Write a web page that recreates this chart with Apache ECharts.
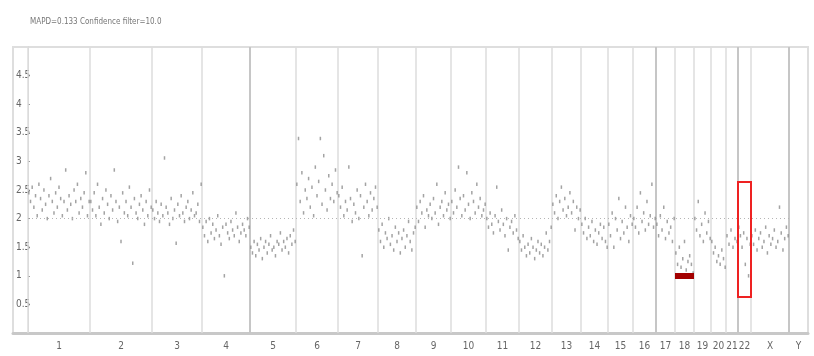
<!DOCTYPE html>
<html>
<head>
<meta charset="utf-8">
<script src="https://cdn.jsdelivr.net/npm/echarts@6/dist/echarts.min.js"></script>
<style>
  html, body { margin: 0; padding: 0; background: #fff; }
  #chart { width: 814px; height: 356px; }
</style>
</head>
<body>
<div id="chart"></div>
<script>
// chromosome names and on-screen widths (genome units)
const chromNames = ["1", "2", "3", "4", "5", "6", "7", "8", "9", "10", "11", "12",
  "13", "14", "15", "16", "17", "18", "19", "20", "21", "22", "X", "Y"];
const chromWidths = [62, 62, 50, 48, 46, 42, 40, 38, 35, 35, 33, 33,
  29, 27, 25, 23, 19, 19, 17, 15, 12, 13, 38, 19];

// copy number values per chromosome
const chr1 = [2.45, 2.3, 2.55, 2.2, 2.4, 2.05, 2.6, 2.35, 2.15, 2.5, 2.25, 2.0, 2.4, 2.7, 2.3, 2.1, 2.45, 2.2, 2.55, 2.35, 2.05, 2.3, 2.85, 2.15, 2.4, 2.25, 2.0, 2.5, 2.3, 2.6, 2.1, 2.35, 2.2, 2.45, 2.8, 2.05, 2.3];
const chr2 = [2.3, 2.15, 2.45, 2.05, 2.6, 2.2, 1.9, 2.35, 2.1, 2.5, 2.25, 2.0, 2.4, 2.15, 2.85, 2.3, 1.95, 2.2, 1.6, 2.45, 2.1, 2.3, 2.05, 2.55, 2.2, 1.22, 2.35, 2.1, 2.0, 2.25, 2.4, 2.15, 1.9, 2.3, 2.05, 2.5, 2.2];
const chr3 = [2.15, 2.0, 2.3, 2.1, 1.95, 2.25, 2.05, 3.06, 2.2, 2.1, 1.9, 2.35, 2.0, 2.15, 1.57, 2.25, 2.05, 2.4, 2.1, 1.95, 2.2, 2.3, 2.0, 2.15, 2.45, 2.05, 2.1, 2.25, 1.95, 2.6];
const chr4 = [1.85, 1.7, 1.95, 1.6, 2.0, 1.75, 1.9, 1.65, 1.8, 2.05, 1.7, 1.55, 1.85, 1.0, 1.9, 1.75, 1.65, 1.95, 1.8, 1.7, 2.1, 1.85, 1.6, 1.75, 1.9, 1.8, 1.7, 2.0, 1.85];
const chr5 = [1.5, 1.4, 1.6, 1.35, 1.55, 1.45, 1.65, 1.3, 1.5, 1.6, 1.4, 1.55, 1.7, 1.45, 1.5, 1.35, 1.6, 1.55, 1.75, 1.45, 1.6, 1.5, 1.65, 1.4, 1.7, 1.55, 1.8, 1.6];
const chr6 = [2.6, 3.4, 2.3, 2.8, 2.1, 2.5, 2.35, 2.7, 2.2, 2.55, 2.05, 2.9, 2.4, 2.65, 3.4, 2.25, 3.1, 2.5, 2.15, 2.75, 2.35, 2.6, 2.3, 2.85, 2.45];
const chr7 = [2.4, 2.2, 2.55, 2.05, 2.3, 2.15, 2.9, 2.35, 1.95, 2.25, 2.1, 2.5, 2.0, 2.4, 1.35, 2.2, 2.6, 2.3, 2.05, 2.45, 2.15, 2.35, 2.55, 2.2];
const chr8 = [1.8, 1.6, 1.9, 1.5, 1.75, 1.65, 2.0, 1.55, 1.7, 1.45, 1.85, 1.6, 1.75, 1.4, 1.65, 1.8, 1.5, 1.7, 1.95, 1.6, 1.45, 1.75, 1.85];
const chr9 = [2.2, 1.95, 2.3, 2.1, 2.4, 1.85, 2.15, 2.05, 2.25, 2.0, 2.35, 2.1, 2.6, 1.9, 2.2, 2.3, 2.05, 2.45, 2.15, 2.25, 2.0];
const chr10 = [2.3, 2.1, 2.5, 2.2, 2.9, 2.35, 2.05, 2.4, 2.15, 2.8, 2.25, 2.0, 2.45, 2.3, 2.1, 2.6, 2.2, 2.35, 2.05, 2.15, 2.25];
const chr11 = [2.0, 1.85, 2.1, 1.9, 1.75, 2.05, 2.55, 1.95, 1.8, 2.15, 1.9, 1.7, 2.0, 1.45, 1.85, 1.95, 1.75, 2.05, 1.8, 1.65];
const chr12 = [1.6, 1.45, 1.7, 1.5, 1.35, 1.55, 1.4, 1.65, 1.5, 1.3, 1.45, 1.6, 1.4, 1.55, 1.35, 1.5, 1.75, 1.45, 1.6, 1.85];
const chr13 = [2.25, 2.1, 2.4, 2.0, 2.3, 2.55, 2.15, 2.35, 2.05, 2.2, 2.45, 2.1, 2.3, 1.8, 2.2, 2.0, 2.15];
const chr14 = [1.9, 1.75, 2.0, 1.65, 1.85, 1.7, 1.95, 1.6, 1.8, 1.55, 1.75, 1.9, 1.65, 1.85, 1.6, 1.5];
const chr15 = [1.9, 1.7, 2.1, 1.5, 2.0, 1.8, 2.35, 1.65, 1.95, 1.75, 2.2, 1.85, 1.6, 2.05, 1.9];
const chr16 = [2.0, 1.85, 2.2, 1.75, 2.45, 1.95, 2.1, 1.8, 2.3, 1.9, 2.05, 2.6, 1.85, 2.0];
const chr17 = [1.9, 1.7, 2.05, 1.8, 2.2, 1.65, 1.95, 1.75, 1.85, 1.6, 2.0];
const chr18 = [1.4, 1.2, 1.5, 1.15, 1.3, 1.6, 1.1, 1.25, 1.35, 1.2, 1.05];
const chr19 = [2.0, 1.8, 2.3, 1.7, 1.9, 1.6, 2.1, 1.75, 1.95, 1.65];
const chr20 = [1.6, 1.4, 1.5, 1.25, 1.35, 1.2, 1.45, 1.3, 1.15];
const chr21 = [1.7, 1.55, 1.8, 1.5, 1.65, 1.6];
const chr22 = [1.85, 1.7, 1.5, 1.75, 1.2, 1.65, 1.0, 1.55];
const chrX = [1.7, 1.55, 1.8, 1.45, 1.65, 1.75, 1.5, 1.6, 1.85, 1.4, 1.7, 1.55, 1.65, 1.8, 1.5, 1.6, 2.2, 1.75, 1.45, 1.65, 1.85, 1.7];
const chrY = [];
const chromValues = [chr1, chr2, chr3, chr4, chr5, chr6, chr7, chr8, chr9, chr10, chr11, chr12,
  chr13, chr14, chr15, chr16, chr17, chr18, chr19, chr20, chr21, chr22, chrX, chrY];

// called segment (red bar) and highlighted region (red box)
const segChrom = ["18"];
const segValue = [1.0];
const boxChrom = ["22"];
const boxRange = [[0.63, 2.64]];

const yTicks = [0.5, 1, 1.5, 2, 2.5, 3, 3.5, 4, 4.5];
const titleText = "MAPD=0.133 Confidence filter=10.0";

// build positions
const starts = [];
let acc = 0;
chromWidths.forEach((w) => { starts.push(acc); acc += w; });
const genomeEnd = acc;
const centres = starts.map((s, i) => s + chromWidths[i] / 2);
const idx = (name) => chromNames.indexOf(name);

const points = [];
chromValues.forEach((vals, c) => {
  vals.forEach((v, i) => {
    points.push([starts[c] + ((i + 0.5) * chromWidths[c]) / vals.length, v]);
  });
});

const heavy = ["5", "17", "22", "Y"];
const boundaryLines = starts.map((s, i) => ({
  xAxis: s,
  lineStyle: heavy.includes(chromNames[i])
    ? { color: "#c6c6c6", width: 2, type: "solid" }
    : { color: "#dcdcdc", width: 1.5, type: "solid" },
}));

const font = "'Liberation Sans Narrow', 'DejaVu Sans Condensed', sans-serif";
const chart = echarts.init(document.getElementById("chart"));

chart.setOption({
  animation: false,
  backgroundColor: "#fff",
  title: {
    text: titleText,
    left: 25,
    top: 13,
    textStyle: { fontFamily: font, fontSize: 8, fontWeight: "normal", color: "#777" },
  },
  grid: {
    left: 13, right: 6, top: 47, bottom: 23,
    show: true, borderColor: "#dedede", borderWidth: 2,
  },
  xAxis: {
    type: "value",
    min: -15,
    max: genomeEnd,
    axisLine: { show: true, onZero: false, lineStyle: { color: "#c8c8c8", width: 3 } },
    axisTick: { show: false },
    splitLine: { show: false },
    axisLabel: {
      customValues: centres,
      formatter: (v) => {
        const i = centres.findIndex((c) => Math.abs(c - v) < 0.01);
        return i >= 0 ? chromNames[i] : "";
      },
      fontFamily: font, fontSize: 10, color: "#666", margin: 8,
    },
  },
  yAxis: {
    type: "value",
    min: 0,
    max: 5,
    interval: 0.5,
    axisLine: { show: true, lineStyle: { color: "#d6d6d6", width: 1 } },
    axisTick: { show: true, inside: true, length: 2, lineStyle: { color: "#999" },
      customValues: yTicks },
    splitLine: { show: false },
    axisLabel: {
      inside: true,
      customValues: yTicks,
      fontFamily: font, fontSize: 10, color: "#666", margin: 3,
    },
  },
  series: [
    {
      type: "scatter",
      data: points,
      symbol: "rect",
      symbolSize: [1.5, 3.5],
      itemStyle: { color: "#8c8c8c" },
      silent: true,
      z: 3,
      markLine: {
        silent: true,
        symbol: "none",
        label: { show: false },
        data: boundaryLines,
        z: 1,
      },
    },
    {
      type: "line",
      data: [],
      silent: true,
      markLine: {
        silent: true,
        symbol: "none",
        label: { show: false },
        data: [
          [
            { coord: [0, 2], lineStyle: { color: "#b5b5b5", width: 1, type: [1, 3] } },
            { coord: [starts[idx("Y")], 2] },
          ],
        ].concat(segChrom.map((c, i) => [
          { coord: [starts[idx(c)], segValue[i]], lineStyle: { color: "#a30000", width: 6, type: "solid" } },
          { coord: [starts[idx(c)] + chromWidths[idx(c)], segValue[i]] },
        ])),
        z: 4,
      },
      markArea: {
        silent: true,
        itemStyle: { color: "rgba(0,0,0,0)", borderColor: "#ee2222", borderWidth: 2 },
        data: boxChrom.map((c, i) => [
          { coord: [starts[idx(c)], boxRange[i][1]] },
          { coord: [starts[idx(c)] + chromWidths[idx(c)], boxRange[i][0]] },
        ]),
        z: 5,
      },
    },
  ],
});
</script>
</body>
</html>
